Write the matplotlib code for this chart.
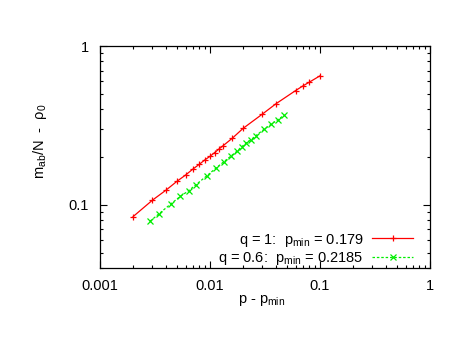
import numpy as np
import matplotlib
matplotlib.use("Agg")
import matplotlib.pyplot as plt
from matplotlib.ticker import LogLocator, NullFormatter, FixedLocator, FixedFormatter

plt.rcParams['font.family'] = ['Liberation Sans', 'DejaVu Sans']
plt.rcParams['mathtext.default'] = 'regular'
plt.rcParams['font.size'] = 10.5

# data: p - p_min vs m_ab/N - rho_0
x_q1 = [0.002, 0.003, 0.004, 0.005, 0.006, 0.007, 0.008, 0.009, 0.010, 0.011,
        0.012, 0.013, 0.016, 0.020, 0.030, 0.040, 0.060, 0.070, 0.080, 0.100]
y_q1 = [0.0843, 0.107, 0.124, 0.1405, 0.154, 0.168, 0.180, 0.192, 0.202, 0.213,
        0.224, 0.234, 0.263, 0.303, 0.373, 0.434, 0.524, 0.561, 0.592, 0.649]

x_q06 = [0.00285, 0.00346, 0.00438, 0.00537, 0.0064, 0.00746, 0.00933, 0.0113, 0.0134, 0.0154,
         0.0175, 0.0194, 0.0212, 0.0234, 0.0262, 0.0312, 0.0361, 0.0412, 0.0471]
y_q06 = [0.0788, 0.0881, 0.101, 0.113, 0.1227, 0.134, 0.152, 0.170, 0.187, 0.202,
         0.217, 0.232, 0.244, 0.256, 0.273, 0.300, 0.322, 0.343, 0.366]

label_q1 = 'q = 1:  p$_{min}$ = 0.179'
label_q06 = 'q = 0.6:  p$_{min}$ = 0.2185'

xticks = [0.001, 0.01, 0.1, 1]
xticklabels = ['0.001', '0.01', '0.1', '1']
yticks = [0.1, 1]
yticklabels = ['0.1', '1']

fig = plt.figure(figsize=(4.69, 3.62), dpi=100)
ax = fig.add_axes([100/469, 94/362, 330/469, 222/362])

ax.plot(x_q1, y_q1, color='#ff0000', lw=0.9, marker='+', ms=5, mew=0.9, label=label_q1)
ax.plot(x_q06, y_q06, color='#00ee00', lw=0.9, ls=(0, (2, 1.5)), marker='x', ms=4.2, mew=0.9,
        label=label_q06)

ax.set_xscale('log')
ax.set_yscale('log')
ax.set_xlim(0.001, 1)
ax.set_ylim(0.04, 1)

ax.xaxis.set_major_locator(FixedLocator(xticks))
ax.xaxis.set_major_formatter(FixedFormatter(xticklabels))
ax.yaxis.set_major_locator(FixedLocator(yticks))
ax.yaxis.set_major_formatter(FixedFormatter(yticklabels))
ax.xaxis.set_minor_locator(LogLocator(base=10, subs=np.arange(2, 10), numticks=20))
ax.yaxis.set_minor_locator(LogLocator(base=10, subs=np.arange(2, 10), numticks=20))
ax.xaxis.set_minor_formatter(NullFormatter())
ax.yaxis.set_minor_formatter(NullFormatter())

ax.tick_params(which='both', direction='in', top=True, right=True, width=0.8)
ax.tick_params(which='major', length=5, pad=8)
ax.tick_params(which='minor', length=2.5)
for s in ax.spines.values():
    s.set_linewidth(0.9)

fig.text(40/469, 1 - 141/362, 'm$_{ab}$/N  -  ρ$_0$', rotation=90, ha='center', va='center')
fig.text(262/469, 1 - 300/362, 'p - p$_{min}$', ha='center', va='center')

ax.legend(loc='lower right', bbox_to_anchor=(313/330, 1/222), frameon=False, markerfirst=False,
          borderpad=0, borderaxespad=0, handlelength=2.8, handletextpad=0.6, labelspacing=0.1)

fig.savefig('out.png', dpi=100)
